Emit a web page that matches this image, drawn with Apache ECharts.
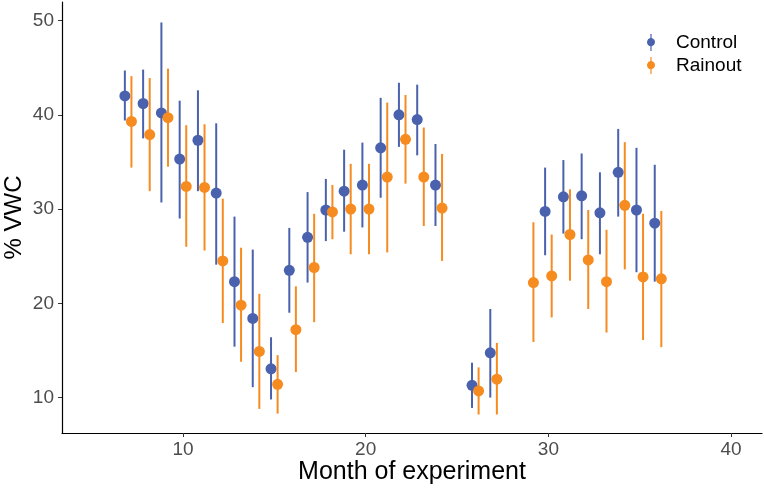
<!DOCTYPE html>
<html>
<head>
<meta charset="utf-8">
<script src="https://cdn.jsdelivr.net/npm/echarts@6/dist/echarts.min.js"></script>
<style>html,body{margin:0;padding:0;background:#fff;}#c{width:764px;height:490px;}</style>
</head>
<body>
<div id="c"></div>
<script>
const months = [7,8,9,10,11,12,13,14,15,16,17,18,19,20,21,22,23,24,26,27,29,30,31,32,33,34,35,36];
const ctrlMean = [42.0,41.2,40.2,35.3,37.3,31.7,22.3,18.4,13.05,23.5,27.0,29.9,31.9,32.55,36.5,40.0,39.5,32.55,11.3,14.75,null,29.75,31.3,31.4,29.6,33.9,29.9,28.5];
const ctrlLow  = [39.4,37.5,30.7,29.0,31.9,24.1,15.4,11.1,9.8,19.0,22.2,26.6,27.6,28.05,31.2,36.6,35.7,28.2,8.9,10.0,null,25.1,27.4,26.8,25.2,29.2,23.3,22.3];
const ctrlHigh = [44.7,44.8,49.8,41.5,42.6,39.1,29.2,25.7,16.4,28.0,31.8,33.2,36.3,37.05,41.8,43.4,43.2,36.9,13.7,19.4,null,34.4,35.2,35.9,33.9,38.5,36.5,34.7];
const rainMean = [39.3,37.9,39.7,32.4,32.3,24.5,19.8,14.9,11.4,17.2,23.8,29.7,30.0,30.0,33.4,37.4,33.4,30.1,10.7,11.95,22.2,22.9,27.3,24.6,22.3,30.4,22.8,22.6];
const rainLow  = [34.4,31.9,34.5,26.0,25.6,17.9,13.8,8.8,8.3,12.7,18.0,26.8,25.2,25.2,25.4,32.7,28.2,24.5,8.2,8.2,15.9,18.5,22.4,19.4,16.9,23.6,16.1,15.35];
const rainHigh = [44.1,43.9,44.9,38.9,39.0,31.1,25.9,21.0,14.5,21.8,29.5,32.55,34.8,34.8,41.3,42.1,38.65,35.85,13.2,15.8,28.6,27.3,32.1,29.9,27.8,37.1,29.5,29.8];
const xTicks = [10,20,30,40];
const yTicks = [10,20,30,40,50];
const groups = ['Control','Rainout'];

const COLORS = {Control:'#4a62ae', Rainout:'#f68b1f'};
const DODGE = 0.18;
const font = 'Liberation Sans, Arial, sans-serif';

function build(mean, low, high, off) {
  const pts = [], bars = [];
  months.forEach((m, i) => {
    if (mean[i] == null) return;
    pts.push([m + off, mean[i]]);
    bars.push([m + off, low[i], high[i]]);
  });
  return {pts, bars};
}
const ctrl = build(ctrlMean, ctrlLow, ctrlHigh, -DODGE);
const rain = build(rainMean, rainLow, rainHigh, DODGE);

function barSeries(name, data) {
  const col = COLORS[name];
  return {
    name, type:'custom', data, z: name==='Control'?2:4,
    itemStyle:{color:col},
    encode:{x:0, y:[1,2]},
    renderItem(params, api) {
      const x = api.value(0);
      const a = api.coord([x, api.value(1)]);
      const b = api.coord([x, api.value(2)]);
      return {type:'line', shape:{x1:a[0], y1:a[1], x2:b[0], y2:b[1]}, style:{stroke:col, lineWidth:2}};
    }
  };
}
function ptSeries(name, data) {
  return {
    name, type:'scatter', data, symbol:'circle', symbolSize:11, z: name==='Control'?3:5,
    itemStyle:{color:COLORS[name], opacity:1}
  };
}
const icon = 'path://M4.3,0 L5.7,0 L5.7,4.6 A5,5 0 0,1 5.7,14.4 L5.7,20 L4.3,20 L4.3,14.4 A5,5 0 0,1 4.3,4.6 Z';

const chart = echarts.init(document.getElementById('c'), null, {renderer:'canvas'});
chart.setOption({
  animation:false,
  backgroundColor:'#ffffff',
  grid:{left:62, right:2, top:2, bottom:57, containLabel:false, outerBoundsMode:'none'},
  legend:{
    orient:'vertical', left:642, top:28, itemWidth:10, itemHeight:17, itemGap:4,
    data: groups.map(g => ({name:g, icon})),
    textStyle:{fontFamily:font, fontSize:19, color:'#000', padding:[0,0,0,15]}
  },
  xAxis:{
    type:'value', min:3.38, max:41.69,
    name:'Month of experiment', nameLocation:'middle', nameGap:27, nameMoveOverlap:false,
    nameTextStyle:{fontFamily:font, fontSize:25, color:'#000'},
    axisLine:{show:true, lineStyle:{color:'#000', width:1.2}},
    axisTick:{show:true, length:4, lineStyle:{color:'#333'}, customValues:xTicks},
    axisLabel:{fontFamily:font, fontSize:19, color:'#4d4d4d', margin:7, customValues:xTicks},
    splitLine:{show:false}
  },
  yAxis:{
    type:'value', min:6.24, max:51.97,
    name:'% VWC', nameLocation:'middle', nameGap:36, nameMoveOverlap:false,
    nameTextStyle:{fontFamily:font, fontSize:24, color:'#000'},
    axisLine:{show:true, lineStyle:{color:'#000', width:1.2}},
    axisTick:{show:true, length:4, lineStyle:{color:'#333'}, customValues:yTicks},
    axisLabel:{fontFamily:font, fontSize:19, color:'#4d4d4d', margin:8, customValues:yTicks},
    splitLine:{show:false}
  },
  series:[
    barSeries('Control', ctrl.bars),
    ptSeries('Control', ctrl.pts),
    barSeries('Rainout', rain.bars),
    ptSeries('Rainout', rain.pts)
  ]
});
</script>
</body>
</html>
